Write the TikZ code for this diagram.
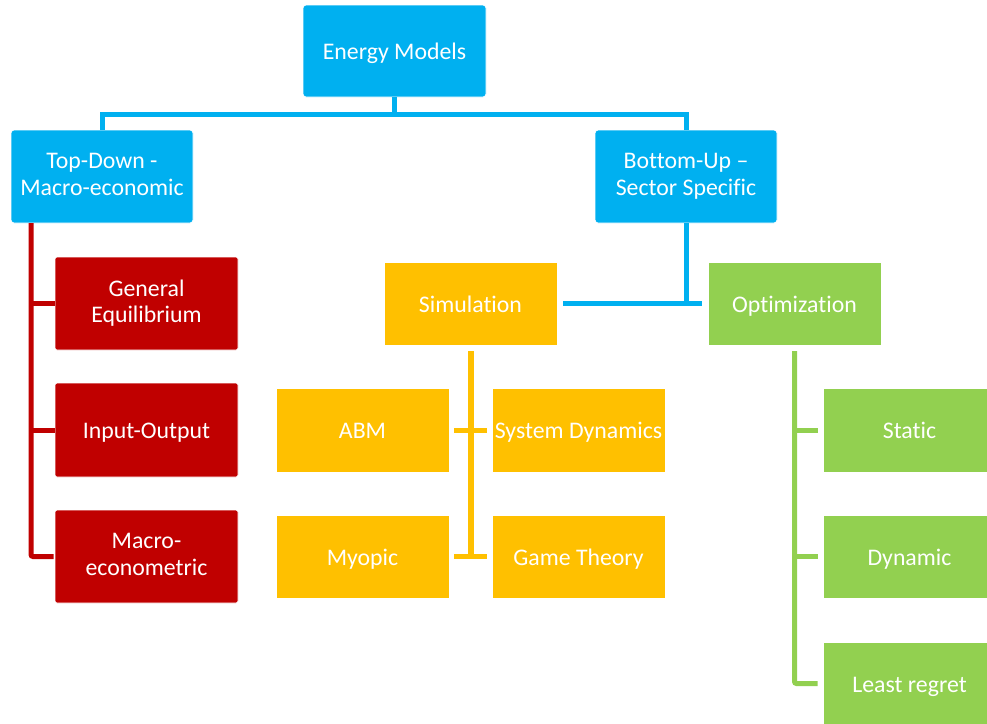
\documentclass[tikz,border=0pt]{standalone}
\usepackage{fontspec}
\setmainfont{Carlito}[RawFeature=-liga]
\definecolor{cblue}{HTML}{00B0F0}
\definecolor{cred}{HTML}{C00000}
\definecolor{cyel}{HTML}{FFC000}
\definecolor{cgrn}{HTML}{92D050}
\newcommand\boxstrut{\rule[-4.5pt]{0pt}{26.7pt}}
\newcommand\twostrut{\rule{0pt}{26.7pt}}
\tikzset{
  box/.style={draw=white, line width=0.8pt, text=white, inner sep=0pt, align=center,
    font=\fontsize{23.8}{26.4}\selectfont,
    execute at begin node={\boxstrut}, execute at end node={\boxstrut}},
  twoline/.style={execute at begin node={\twostrut}},
  bluebox/.style={box, fill=cblue, rounded corners=3pt, minimum width=182pt, minimum height=93pt},
  redbox/.style={box, fill=cred, rounded corners=2pt, minimum width=183pt, minimum height=93pt},
  yelbox/.style={box, fill=cyel, minimum width=173pt, minimum height=84pt},
  grnbox/.style={box, fill=cgrn, minimum width=173pt, minimum height=84pt},
  conn/.style={line width=5pt}
}
\begin{document}
\begin{tikzpicture}[x=1pt,y=-1pt]
\clip (0,0) rectangle (987,723);
\fill[white] (0,0) rectangle (987,723);
% nodes
\node[bluebox, minimum width=183pt, minimum height=92pt] (em) at (394.5,51) {Energy Models};
\node[bluebox, twoline] (td) at (102,176.5) {Top-Down -\\Macro-economic};
\node[bluebox, twoline] (bu) at (686,176.5) {Bottom-Up –\\Sector Specific};
\node[redbox, twoline] (ge) at (146.5,303.5) {General\\Equilibrium};
\node[redbox, minimum height=94pt] (io) at (146.5,430) {Input-Output};
\node[redbox, twoline] (me) at (146.5,556.5) {Macro-\\econometric};
\node[yelbox, minimum height=83pt] (sim) at (470.5,303.5) {Simulation};
\node[grnbox, minimum height=83pt] (opt) at (794.5,303.5) {Optimization};
\node[yelbox] (abm) at (362.5,430) {ABM};
\node[yelbox] (sd) at (578.5,430) {System Dynamics};
\node[yelbox, minimum height=83pt] (myo) at (362.5,556.5) {Myopic};
\node[yelbox, minimum height=83pt] (gt) at (578.5,556.5) {Game Theory};
\node[grnbox] (st) at (909.5,430) {Static};
\node[grnbox, minimum height=83pt] (dyn) at (909.5,556.5) {Dynamic};
\node[grnbox, minimum height=83pt] (lr) at (909.5,683.5) {Least regret};
% blue connectors
\coordinate (bj) at (394.5,114);
\draw[conn, cblue] (em.south) -- (bj);
\draw[conn, cblue] (td.north) |- (bj) -| (bu.north);
\coordinate (bj2) at (686,303);
\draw[conn, cblue] (bu.south) -- (bj2);
\draw[conn, cblue] ([xshift=6pt]sim.east) -- ([xshift=-6pt]opt.west);
% red connectors
\coordinate (rtop) at (31,223);
\draw[conn, cred, rounded corners=2pt] (rtop) |- ([xshift=-1pt]me.west);
\draw[conn, cred] (31,303.5) -- (ge.west);
\draw[conn, cred] (31,430) -- (io.west);
% yellow connectors
\coordinate (ytop) at (470.5,351);
\coordinate (ybot) at (470.5,557);
\draw[conn, cyel, line width=6pt] (ytop) -- (ybot);
\draw[conn, cyel] ([xshift=5pt]abm.east) -- ([xshift=-5pt]sd.west);
\draw[conn, cyel] ([xshift=5pt]myo.east) -- ([xshift=-5pt]gt.west);
% green connectors
\coordinate (gtop) at (794.5,351);
\draw[conn, cgrn, rounded corners=2pt] (gtop) |- ([xshift=-5pt]lr.west);
\draw[conn, cgrn] (794.5,430) -- ([xshift=-5pt]st.west);
\draw[conn, cgrn] (794.5,556.5) -- ([xshift=-5pt]dyn.west);
\end{tikzpicture}
\end{document}
